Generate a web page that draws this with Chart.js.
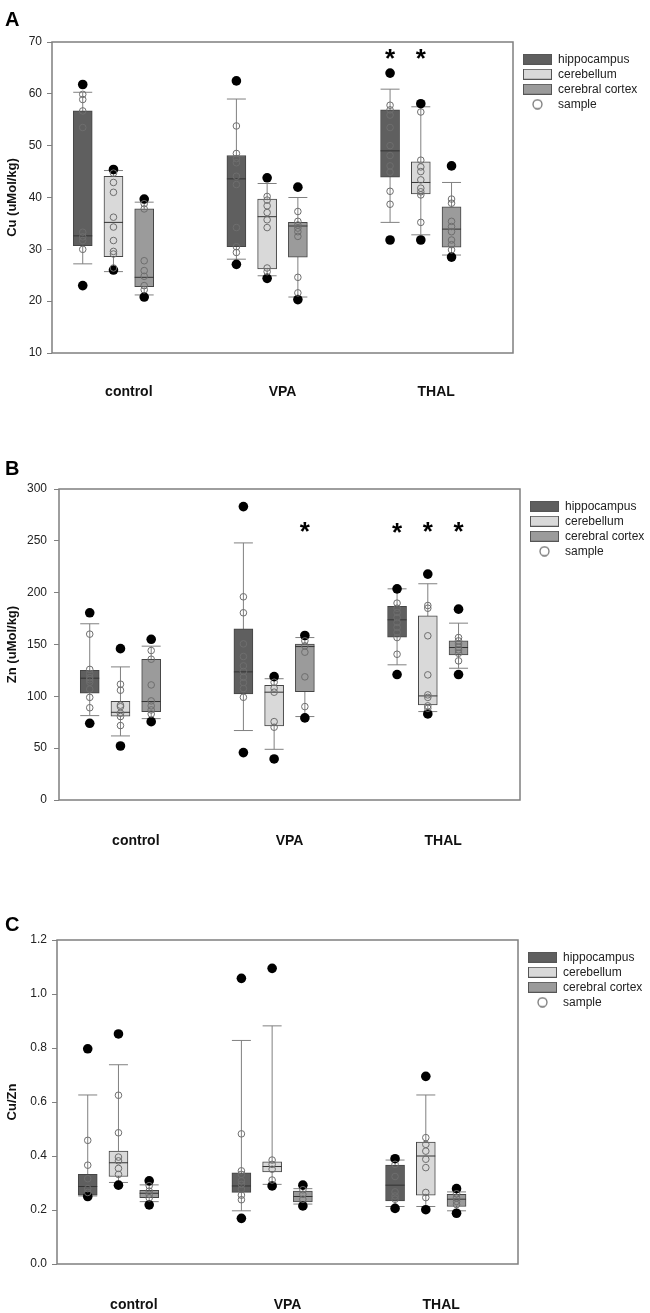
<!DOCTYPE html>
<html>
<head>
<meta charset="utf-8">
<script src="https://cdn.jsdelivr.net/npm/chart.js@4.4.1/dist/chart.umd.min.js"></script>
<style>
  body { margin: 0; background: #fff; }
  canvas { display: block; }
</style>
</head>
<body>
<canvas id="chartA" width="650" height="447" style="width:650px;height:447px"></canvas>
<canvas id="chartB" width="650" height="451" style="width:650px;height:451px"></canvas>
<canvas id="chartC" width="650" height="415" style="width:650px;height:415px"></canvas>
<script>
const categories = ['control', 'VPA', 'THAL'];
const regions = ['hippocampus', 'cerebellum', 'cerebral cortex'];

// every table below: rows = hippocampus, cerebellum, cerebral cortex; columns = control, VPA, THAL

// Cu (uMol/kg)
const cuQ1 = [[30.7, 30.5, 43.9], [28.6, 26.2, 40.7], [22.8, 28.5, 30.4]];
const cuMedian = [[32.6, 43.6, 49.0], [35.2, 36.3, 42.9], [24.6, 34.5, 33.9]];
const cuQ3 = [[56.7, 48.1, 56.9], [44.1, 39.7, 46.9], [37.8, 35.2, 38.2]];
const cuWhiskerLow = [[27.2, 28.1, 35.2], [25.7, 24.9, 32.8], [21.2, 20.8, 28.9]];
const cuWhiskerHigh = [[60.3, 59.0, 60.9], [45.2, 42.7, 57.5], [39.1, 40.0, 42.9]];
const cuOutlierLow = [[23.0, 27.1, 31.8], [26.0, 24.4, 31.8], [20.8, 20.3, 28.5]];
const cuOutlierHigh = [[61.8, 62.5, 64.0], [45.4, 43.8, 58.1], [39.7, 42.0, 46.1]];
const cuSamples = [
  [[59.9, 58.9, 56.7, 53.5, 33.3, 32.4, 31.7, 30.0],
   [53.8, 48.5, 47.5, 46.7, 44.1, 42.5, 34.2, 30.5, 29.4],
   [57.8, 56.9, 55.9, 53.5, 50.0, 48.1, 46.1, 44.9, 41.2, 38.7]],
  [[44.7, 42.9, 41.0, 36.2, 34.3, 31.7, 29.6, 29.1, 26.4],
   [40.2, 39.5, 38.4, 37.1, 35.7, 34.2, 26.4, 25.7],
   [56.5, 47.2, 45.9, 45.0, 43.4, 41.8, 41.1, 40.5, 35.2]],
  [[38.8, 37.8, 27.8, 25.9, 24.8, 23.0, 22.2],
   [37.3, 35.4, 34.7, 34.1, 33.4, 32.5, 24.6, 21.6],
   [39.7, 38.9, 35.4, 34.4, 33.4, 31.8, 30.9, 29.9]]
];
const cuStars = [[null, null, 68], [null, null, 68], [null, null, null]];

// Zn (uMol/kg)
const znQ1 = [[103, 102.3, 157.1], [80.8, 71.4, 91.7], [85.3, 104.6, 140]];
const znMedian = [[117.5, 123.6, 173.8], [84.6, 104, 100.4], [95, 148, 147.1]];
const znQ3 = [[125.2, 165, 186.7], [95.3, 110.7, 177.7], [135.8, 150.3, 153.5]];
const znWhiskerLow = [[81.4, 67, 130.4], [61.8, 48.9, 85.3], [78.5, 80.5, 127.1]];
const znWhiskerHigh = [[170, 248, 203.7], [128.4, 117, 208.6], [148.4, 156.7, 170.6]];
const znOutlierLow = [[74, 45.7, 121], [52.1, 39.6, 83], [75.6, 79.2, 121]];
const znOutlierHigh = [[180.6, 283, 203.7], [146, 119, 217.9], [155, 158.7, 184.1]];
const znSamples = [
  [[160, 126, 122, 118, 116, 113.6, 106.9, 99, 89],
   [196, 180.6, 150.6, 138.4, 129.4, 124, 118.4, 113.3, 107.5, 99.1],
   [189.9, 185, 180.9, 176, 171.2, 166.4, 161.6, 156.7, 140.6]],
  [[111.7, 105.9, 91.5, 90, 83.7, 80.5, 71.8],
   [113.6, 107.9, 104, 75.6, 70.2],
   [187.6, 185, 158.4, 120.7, 101.4, 99, 90.8, 88.5]],
  [[144.2, 135.8, 111, 95.6, 90.8, 86.9, 83],
   [153.5, 148.7, 142.6, 118.8, 90.1],
   [156.7, 153.5, 150.6, 147.4, 144.8, 141.6, 134.2]]
];
const znStars = [[null, null, 264], [null, null, 265], [null, 265, 265]];

// Cu/Zn
const ratioQ1 = [[0.255, 0.265, 0.234], [0.324, 0.341, 0.255], [0.246, 0.230, 0.213]];
const ratioMedian = [[0.287, 0.289, 0.292], [0.375, 0.361, 0.400], [0.262, 0.250, 0.240]];
const ratioQ3 = [[0.332, 0.338, 0.366], [0.418, 0.378, 0.452], [0.273, 0.270, 0.258]];
const ratioWhiskerLow = [[0.252, 0.197, 0.213], [0.302, 0.295, 0.213], [0.231, 0.222, 0.197]];
const ratioWhiskerHigh = [[0.626, 0.828, 0.385], [0.738, 0.882, 0.626], [0.293, 0.279, 0.267]];
const ratioOutlierLow = [[0.250, 0.169, 0.206], [0.292, 0.289, 0.201], [0.219, 0.215, 0.188]];
const ratioOutlierHigh = [[0.797, 1.058, 0.390], [0.852, 1.095, 0.695], [0.308, 0.292, 0.279]];
const ratioSamples = [
  [[0.458, 0.366, 0.316, 0.279, 0.265],
   [0.482, 0.345, 0.332, 0.308, 0.295, 0.277, 0.255, 0.238],
   [0.369, 0.324, 0.267, 0.252, 0.240]],
  [[0.625, 0.486, 0.396, 0.382, 0.354, 0.332],
   [0.385, 0.369, 0.351, 0.311],
   [0.468, 0.443, 0.418, 0.388, 0.357, 0.265, 0.246]],
  [[0.290, 0.270, 0.258, 0.245],
   [0.275, 0.258, 0.240],
   [0.260, 0.245, 0.232, 0.220]]
];
const ratioStars = [[null, null, null], [null, null, null], [null, null, null]];

// looks
const regionFill = ['#5f5f5f', '#d9d9d9', '#9b9b9b'];
const boxOffset = [0.2, 0.4, 0.6]; // position of each region inside a group (x units)
const boxWidth = 19;
const FONT = '"Liberation Sans", Arial, sans-serif';
Chart.defaults.font.family = FONT;

// legend icons: 36px wide, swatch sits in the right 29px so it starts 10px past the plot frame
function swatchIcon(fill) {
  const c = document.createElement('canvas');
  c.width = 36; c.height = 11;
  const g = c.getContext('2d');
  g.fillStyle = fill;
  g.fillRect(7.5, 0.5, 28, 10);
  g.strokeStyle = '#555';
  g.lineWidth = 1;
  g.strokeRect(7.5, 0.5, 28, 10);
  return c;
}
function sampleIcon() {
  const c = document.createElement('canvas');
  c.width = 36; c.height = 11;
  const g = c.getContext('2d');
  g.strokeStyle = '#777';
  g.lineWidth = 1.3;
  g.beginPath();
  g.arc(21.5, 5.5, 4.5, 0, Math.PI * 2);
  g.stroke();
  return c;
}
const legendIcons = regionFill.map(swatchIcon).concat([sampleIcon()]);
const legendTexts = regions.concat(['sample']);

const meas = document.createElement('canvas').getContext('2d');
meas.font = '12px ' + FONT;
const legendNatural = 3 + 36 + 6 + Math.max(...legendTexts.map(t => meas.measureText(t).width)) + 10;

const boxPlotExtras = {
  id: 'boxPlotExtras',
  beforeDatasetsDraw(chart, args, o) {
    const { ctx, scales: { x, y } } = chart;
    ctx.save();
    ctx.strokeStyle = '#808080';
    ctx.lineWidth = 1;
    o.whiskerLow.forEach((row, r) => row.forEach((lo, g) => {
      const px = x.getPixelForValue(g + boxOffset[r]);
      const yl = y.getPixelForValue(lo);
      const yh = y.getPixelForValue(o.whiskerHigh[r][g]);
      ctx.beginPath();
      ctx.moveTo(px, yl); ctx.lineTo(px, yh);
      ctx.moveTo(px - boxWidth / 2, yl); ctx.lineTo(px + boxWidth / 2, yl);
      ctx.moveTo(px - boxWidth / 2, yh); ctx.lineTo(px + boxWidth / 2, yh);
      ctx.stroke();
    }));
    ctx.restore();
  },
  afterDatasetDraw(chart, args, o) {
    if (args.meta.type !== 'bar') return;
    const r = args.index;
    const { ctx, scales: { x, y } } = chart;
    ctx.save();
    ctx.strokeStyle = '#333';
    ctx.lineWidth = 1;
    o.median[r].forEach((m, g) => {
      const px = x.getPixelForValue(g + boxOffset[r]);
      const py = y.getPixelForValue(m);
      ctx.beginPath();
      ctx.moveTo(px - boxWidth / 2, py); ctx.lineTo(px + boxWidth / 2, py);
      ctx.stroke();
    });
    ctx.restore();
  },
  afterDatasetsDraw(chart, args, o) {
    const { ctx, chartArea: a, scales: { x, y } } = chart;
    ctx.save();
    ctx.fillStyle = '#000';
    ctx.textAlign = 'center';
    ctx.textBaseline = 'alphabetic';
    ctx.font = 'bold 26px ' + FONT;
    o.stars.forEach((row, r) => row.forEach((s, g) => {
      if (s === null) return;
      ctx.fillText('*', x.getPixelForValue(g + boxOffset[r]), y.getPixelForValue(s) + 14.5);
    }));
    ctx.strokeStyle = '#7f7f7f';
    ctx.lineWidth = 1.5;
    ctx.strokeRect(a.left, a.top, a.right - a.left, a.bottom - a.top);
    ctx.restore();
  }
};

function points(tables) {
  const pts = [];
  tables.forEach(t => t.forEach((row, r) => row.forEach((v, g) => {
    (Array.isArray(v) ? v : [v]).forEach(val => pts.push({ x: g + boxOffset[r], y: val }));
  })));
  return pts;
}

function makeChart(c) {
  const target = 650 - c.right;
  const padR = Math.max(0, target - legendNatural);
  const datasets = regions.map((name, r) => ({
    type: 'bar',
    label: name,
    order: 2,
    data: categories.map((cat, g) => ({ x: g + boxOffset[r], y: [c.q1[r][g], c.q3[r][g]] })),
    backgroundColor: regionFill[r],
    borderColor: '#454545',
    borderWidth: 1,
    borderSkipped: false,
    barThickness: boxWidth,
    grouped: false
  }));
  datasets.push({
    type: 'scatter', label: 'outlier', order: 1,
    data: points([c.oLow, c.oHigh]),
    pointRadius: 4.8, pointBackgroundColor: '#000', pointBorderWidth: 0
  });
  datasets.push({
    type: 'scatter', label: 'sample', order: 0,
    data: points([c.samples]),
    pointRadius: 3.3, pointBackgroundColor: 'rgba(0,0,0,0)',
    pointBorderColor: '#6e6e6e', pointBorderWidth: 1
  });

  return new Chart(document.getElementById(c.canvas), {
    type: 'bar',
    data: { datasets },
    plugins: [boxPlotExtras],
    options: {
      responsive: false,
      animation: false,
      events: [],
      layout: { padding: { left: 5, right: padR, top: 0, bottom: 0 } },
      scales: {
        x: {
          type: 'linear', min: 0, max: 3, offset: false,
          afterBuildTicks: s => { s.ticks = categories.map((cat, i) => ({ value: i + 0.5 })); },
          afterFit: s => { s.height = c.xAxisH; },
          grid: { display: false, drawTicks: false, offset: false },
          border: { display: false },
          ticks: {
            autoSkip: false, maxRotation: 0, padding: c.xPad,
            font: { size: 14, weight: 'bold' }, color: '#111',
            callback: v => categories[Math.floor(v)]
          }
        },
        y: {
          type: 'linear', min: c.min, max: c.max,
          afterFit: s => { s.width = c.left - 5; },
          grid: { drawOnChartArea: false, drawTicks: true, tickLength: 5, color: '#808080', tickColor: '#808080', lineWidth: 1 },
          border: { display: false },
          ticks: {
            stepSize: c.step, padding: c.yPad, font: { size: 12 }, color: '#222',
            callback: v => v.toFixed(c.decimals)
          },
          title: { display: true, text: c.yTitle, font: { size: 13, weight: 'bold' }, color: '#111', padding: 0 }
        }
      },
      plugins: {
        title: {
          display: true, text: c.letter, align: 'start', color: '#000',
          font: { size: 20, weight: 'bold' },
          padding: { top: c.letterTop, bottom: c.letterBottom }
        },
        legend: {
          position: 'right', align: 'start', fullSize: false,
          maxWidth: target - padR,
          title: { display: true, text: '', font: { size: 1 }, padding: { top: 7, bottom: 0 } },
          labels: {
            usePointStyle: true, pointStyleWidth: 36, boxHeight: 10, padding: 3,
            font: { size: 12 }, color: '#222',
            generateLabels: () => legendTexts.map((t, i) => ({
              text: t, pointStyle: legendIcons[i], fillStyle: '#fff', strokeStyle: '#555',
              lineWidth: 1, hidden: false, datasetIndex: i, fontColor: '#222'
            }))
          }
        },
        tooltip: { enabled: false },
        boxPlotExtras: {
          whiskerLow: c.wLow, whiskerHigh: c.wHigh, median: c.median, stars: c.stars
        }
      }
    }
  });
}

makeChart({
  canvas: 'chartA', letter: 'A', yTitle: 'Cu (uMol/kg)', min: 10, max: 70, step: 10, decimals: 0,
  left: 52, right: 513, xAxisH: 94, xPad: 31, yPad: 5, letterTop: 8, letterBottom: 10,
  q1: cuQ1, median: cuMedian, q3: cuQ3, wLow: cuWhiskerLow, wHigh: cuWhiskerHigh,
  oLow: cuOutlierLow, oHigh: cuOutlierHigh, samples: cuSamples, stars: cuStars
});
makeChart({
  canvas: 'chartB', letter: 'B', yTitle: 'Zn (uMol/kg)', min: 0, max: 300, step: 50, decimals: 0,
  left: 59, right: 520, xAxisH: 98, xPad: 32.6, yPad: 7, letterTop: 10.5, letterBottom: 7.5,
  q1: znQ1, median: znMedian, q3: znQ3, wLow: znWhiskerLow, wHigh: znWhiskerHigh,
  oLow: znOutlierLow, oHigh: znOutlierHigh, samples: znSamples, stars: znStars
});
makeChart({
  canvas: 'chartC', letter: 'C', yTitle: 'Cu/Zn', min: 0, max: 1.2, step: 0.2, decimals: 1,
  left: 57, right: 518, xAxisH: 49, xPad: 32.6, yPad: 5, letterTop: 15, letterBottom: 3,
  q1: ratioQ1, median: ratioMedian, q3: ratioQ3, wLow: ratioWhiskerLow, wHigh: ratioWhiskerHigh,
  oLow: ratioOutlierLow, oHigh: ratioOutlierHigh, samples: ratioSamples, stars: ratioStars
});
</script>
</body>
</html>
